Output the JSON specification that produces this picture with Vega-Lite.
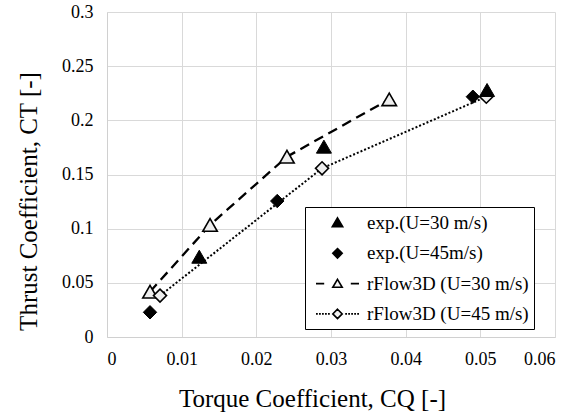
{
  "$schema": "https://vega.github.io/schema/vega-lite/v6.json",
  "width": 448,
  "height": 325,
  "autosize": "none",
  "padding": {"left": 107, "top": 12, "right": 27, "bottom": 81},
  "background": "white",
  "config": {
    "view": {"stroke": null},
    "font": "Liberation Serif",
    "axis": {
      "gridColor": "#d9d9d9",
      "gridWidth": 1,
      "domainColor": "#d0d0d0",
      "ticks": false,
      "labelFont": "Liberation Serif",
      "labelFontSize": 18,
      "labelColor": "black",
      "titleFont": "Liberation Serif",
      "titleFontSize": 25,
      "titleFontWeight": "normal",
      "titleColor": "black"
    }
  },
  "data": {
    "values": [
      {"series": "exp.(U=30 m/s)", "cq": 0.01236, "ct": 0.0741},
      {"series": "exp.(U=30 m/s)", "cq": 0.02905, "ct": 0.1757},
      {"series": "exp.(U=30 m/s)", "cq": 0.0509, "ct": 0.228},
      {"series": "exp.(U=45m/s)", "cq": 0.00576, "ct": 0.0228},
      {"series": "exp.(U=45m/s)", "cq": 0.0228, "ct": 0.1255},
      {"series": "exp.(U=45m/s)", "cq": 0.049, "ct": 0.2218},
      {"series": "rFlow3D (U=30 m/s)", "cq": 0.00576, "ct": 0.0418},
      {"series": "rFlow3D (U=30 m/s)", "cq": 0.0138, "ct": 0.1034},
      {"series": "rFlow3D (U=30 m/s)", "cq": 0.0241, "ct": 0.1664},
      {"series": "rFlow3D (U=30 m/s)", "cq": 0.0378, "ct": 0.2194},
      {"series": "rFlow3D (U=45 m/s)", "cq": 0.0071, "ct": 0.0382},
      {"series": "rFlow3D (U=45 m/s)", "cq": 0.0288, "ct": 0.1557},
      {"series": "rFlow3D (U=45 m/s)", "cq": 0.0508, "ct": 0.2218}
    ]
  },
  "encoding": {
    "x": {
      "field": "cq",
      "type": "quantitative",
      "scale": {"domain": [0, 0.06], "nice": false, "zero": false},
      "axis": {
        "values": [0, 0.01, 0.02, 0.03, 0.04, 0.05, 0.06],
        "format": "~g",
        "labelFont": "Liberation Serif",
        "titleFont": "Liberation Serif",
        "labelPadding": 13,
        "titlePadding": 18,
        "titleX": 205,
        "title": "Torque Coefficient,  CQ [-]"
      }
    },
    "y": {
      "field": "ct",
      "type": "quantitative",
      "scale": {"domain": [0, 0.3], "nice": false, "zero": false},
      "axis": {
        "values": [0, 0.05, 0.1, 0.15, 0.2, 0.25, 0.3],
        "format": "~g",
        "labelFont": "Liberation Serif",
        "titleFont": "Liberation Serif",
        "labelPadding": 14,
        "titlePadding": 20,
        "titleY": 189,
        "title": "Thrust Coefficient,  CT  [-]"
      }
    }
  },
  "layer": [
    {
      "transform": [{"filter": "datum.series === 'rFlow3D (U=30 m/s)'"}],
      "mark": {"type": "line", "color": "black", "strokeWidth": 2.3, "strokeDash": [10, 6]},
      "encoding": {}
    },
    {
      "transform": [{"filter": "datum.series === 'rFlow3D (U=45 m/s)'"}],
      "mark": {"type": "line", "color": "black", "strokeWidth": 2, "strokeDash": [2, 2]},
      "encoding": {}
    },
    {
      "transform": [{"filter": "datum.series === 'rFlow3D (U=30 m/s)'"}],
      "mark": {"type": "point", "shape": "triangle-up", "size": 210, "filled": true, "fill": "#eeeeee", "stroke": "black", "strokeWidth": 1.6, "opacity": 1}
    },
    {
      "transform": [{"filter": "datum.series === 'rFlow3D (U=45 m/s)'"}],
      "mark": {"type": "point", "shape": "diamond", "size": 170, "filled": true, "fill": "#eeeeee", "stroke": "black", "strokeWidth": 1.6, "opacity": 1}
    },
    {
      "transform": [{"filter": "datum.series === 'exp.(U=45m/s)'"}],
      "mark": {"type": "point", "shape": "diamond", "size": 180, "filled": true, "fill": "black", "stroke": "black", "strokeWidth": 1, "opacity": 1}
    },
    {
      "transform": [{"filter": "datum.series === 'exp.(U=30 m/s)'"}],
      "mark": {"type": "point", "shape": "triangle-up", "size": 225, "filled": true, "fill": "black", "stroke": "black", "strokeWidth": 1, "opacity": 1}
    },
    {
      "transform": [{"filter": "datum.cq < 0"}],
      "mark": {"type": "point", "filled": true, "strokeWidth": 1.6, "opacity": 1},
      "encoding": {
        "shape": {
          "field": "series",
          "type": "nominal",
          "scale": {
            "domain": ["exp.(U=30 m/s)", "exp.(U=45m/s)", "rFlow3D (U=30 m/s)", "rFlow3D (U=45 m/s)"],
            "range": [
              "M0,-0.52L0.52,0.37L-0.52,0.37Z",
              "M0,-0.47L0.47,0L0,0.47L-0.47,0Z",
              "M-2.15,0H-1.33M0,-0.43L0.47,0.37L-0.47,0.37ZM1.33,0H2.15",
              "M-2.15,0H-1.97M-1.85,0H-1.67M-1.55,0H-1.37M-1.25,0H-1.07M-0.95,0H-0.77M0,-0.47L0.47,0L0,0.47L-0.47,0ZM0.77,0H0.95M1.07,0H1.25M1.37,0H1.55M1.67,0H1.85M1.97,0H2.15"
            ]
          },
          "legend": {
            "title": null,
            "orient": "none",
            "legendX": 198,
            "legendY": 195,
            "symbolSize": 400,
            "symbolOffset": 16.5,
            "symbolStrokeWidth": 1.6,
            "labelFont": "Liberation Serif",
            "labelFontSize": 19,
            "labelColor": "black",
            "labelOffset": 18.5,
            "labelLimit": 300,
            "rowPadding": 9.3,
            "padding": 5,
            "strokeColor": "black",
            "fillColor": "white"
          }
        },
        "fill": {
          "field": "series",
          "type": "nominal",
          "scale": {
            "domain": ["exp.(U=30 m/s)", "exp.(U=45m/s)", "rFlow3D (U=30 m/s)", "rFlow3D (U=45 m/s)"],
            "range": ["black", "black", "#f4f4f4", "#f4f4f4"]
          },
          "legend": {
            "title": null,
            "orient": "none",
            "legendX": 198,
            "legendY": 195,
            "symbolSize": 400,
            "symbolOffset": 16.5,
            "symbolStrokeWidth": 1.6,
            "labelFont": "Liberation Serif",
            "labelFontSize": 19,
            "labelColor": "black",
            "labelOffset": 18.5,
            "labelLimit": 300,
            "rowPadding": 9.3,
            "padding": 5,
            "strokeColor": "black",
            "fillColor": "white"
          }
        },
        "stroke": {
          "field": "series",
          "type": "nominal",
          "scale": {
            "domain": ["exp.(U=30 m/s)", "exp.(U=45m/s)", "rFlow3D (U=30 m/s)", "rFlow3D (U=45 m/s)"],
            "range": ["black", "black", "black", "black"]
          },
          "legend": {
            "title": null,
            "orient": "none",
            "legendX": 198,
            "legendY": 195,
            "symbolSize": 400,
            "symbolOffset": 16.5,
            "symbolStrokeWidth": 1.6,
            "labelFont": "Liberation Serif",
            "labelFontSize": 19,
            "labelColor": "black",
            "labelOffset": 18.5,
            "labelLimit": 300,
            "rowPadding": 9.3,
            "padding": 5,
            "strokeColor": "black",
            "fillColor": "white"
          }
        }
      }
    }
  ]
}
